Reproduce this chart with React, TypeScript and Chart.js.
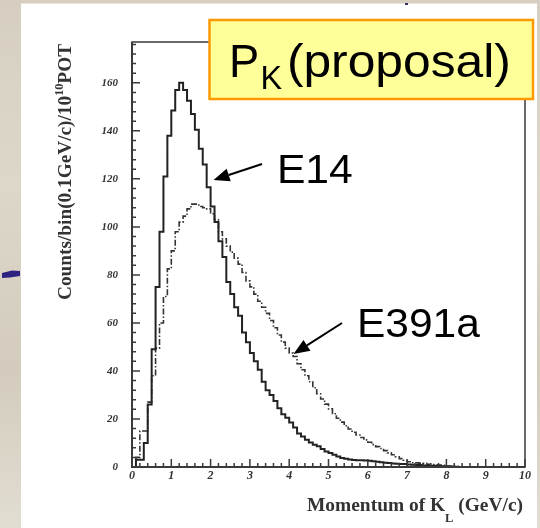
import React, { useEffect, useRef } from "react";
import { Chart, registerables } from "chart.js";

Chart.register(...registerables);

// ---- data ----
const BIN_WIDTH = 0.1; // GeV/c per bin
const X_MIN = 0;
const X_MAX = 10;
const Y_MIN = 0;
const Y_MAX = 177;
const X_TICKS = [0, 1, 2, 3, 4, 5, 6, 7, 8, 9, 10];
const Y_TICKS = [0, 20, 40, 60, 80, 100, 120, 140, 160];
const X_MINOR_STEP = 0.2;
const Y_MINOR_STEP = 4;

const E14_COUNTS = [
  0, 3, 3, 10, 26, 49, 75, 98, 121, 138,
  148.5, 157, 160, 157, 152.5, 147, 140.5, 132.5, 126, 116.5,
  108.5, 102, 94, 87.5, 77, 72, 66.5, 63, 56, 52,
  47.5, 44, 40.5, 35.5, 32, 30, 27.5, 24.5, 22, 20.5,
  18.5, 16.5, 14, 12.7, 11.3, 10.2, 9.3, 8.6, 7.5, 6.5,
  5.8, 5.1, 4.4, 3.8, 3.4, 3.1, 2.9, 2.8, 2.8, 2.7,
  2.6, 2.4, 2.2, 2.0, 1.8, 1.7, 1.5, 1.4, 1.3, 1.2,
  1.0, 0.9, 0.8, 0.8, 0.6, 0.5, 0.5, 0.4, 0.3, 0.3,
  0.2, 0.2, 0.1, 0, 0, 0, 0, 0, 0, 0,
  0, 0, 0, 0, 0, 0, 0, 0, 0, 0,
];

const E391A_COUNTS = [
  0, 4, 15, 15, 27, 38, 49.5, 60, 71, 82.5,
  90, 98, 102, 104.5, 107.5, 109.5, 109.5, 108.5, 108, 107.5,
  105.5, 103, 98, 95, 92, 89.5, 87, 84.5, 81, 77.5,
  75, 72, 69, 66.5, 64, 61, 58, 55, 52, 49.5,
  47.5, 46, 43, 40.5, 38, 35.5, 33, 30.5, 28.3, 26.2,
  24.2, 22.2, 20.3, 18.7, 17.2, 15.8, 14.5, 13.3, 12.3, 11.3,
  10.3, 9.3, 8.5, 7.7, 6.8, 5.9, 5.1, 4.3, 3.5, 2.8,
  2.2, 1.8, 1.7, 1.6, 1.5, 1.1, 1.0, 0.9, 0.8, 0.7,
  0.4, 0.3, 0.2, 0, 0, 0, 0, 0, 0, 0,
  0, 0, 0, 0, 0, 0, 0, 0, 0, 0,
];

const TITLE_MAIN = "P";
const TITLE_SUB = "K";
const TITLE_REST = "(proposal)";
const LABEL_E14 = "E14";
const LABEL_E391A = "E391a";
const X_TITLE = ["Momentum of K", "L", " (GeV/c)"];
const Y_TITLE = ["Counts/bin(0.1GeV/c)/10", "10", "POT"];

// ---- helpers ----
const toHist = (counts: number[]) => {
  const pts = counts.map((v, i) => ({ x: +(i * BIN_WIDTH).toFixed(2), y: v }));
  pts.push({ x: +(counts.length * BIN_WIDTH).toFixed(2), y: counts[counts.length - 1] });
  return pts;
};

const SANS = "'Liberation Sans', Arial, sans-serif";
const SERIF = "'Liberation Serif', 'Times New Roman', serif";

function drawFitted(
  ctx: CanvasRenderingContext2D,
  text: string,
  font: string,
  visLeft: number,
  baseline: number,
  visWidth: number
) {
  ctx.save();
  ctx.font = font;
  ctx.textAlign = "left";
  ctx.textBaseline = "alphabetic";
  const m = ctx.measureText(text);
  const w = m.actualBoundingBoxLeft + m.actualBoundingBoxRight;
  const sx = visWidth / w;
  ctx.translate(visLeft, baseline);
  ctx.scale(sx, 1);
  ctx.fillText(text, m.actualBoundingBoxLeft, 0);
  ctx.restore();
}

type Seg = { text: string; size: number; dy: number };

function drawComposite(ctx: CanvasRenderingContext2D, segs: Seg[], totalLen: number) {
  let w = 0;
  const widths = segs.map((s) => {
    ctx.font = `bold ${s.size}px ${SERIF}`;
    const mw = ctx.measureText(s.text).width;
    w += mw;
    return mw;
  });
  const sx = totalLen / w;
  ctx.scale(sx, 1);
  let x = 0;
  segs.forEach((s, i) => {
    ctx.font = `bold ${s.size}px ${SERIF}`;
    ctx.fillText(s.text, x, s.dy);
    x += widths[i];
  });
}

function arrow(ctx: CanvasRenderingContext2D, x0: number, y0: number, x1: number, y1: number) {
  const ang = Math.atan2(y1 - y0, x1 - x0);
  const hl = 16;
  const hw = 6.5;
  const bx = x1 - hl * Math.cos(ang);
  const by = y1 - hl * Math.sin(ang);
  ctx.strokeStyle = "#000";
  ctx.lineWidth = 2;
  ctx.beginPath();
  ctx.moveTo(x0, y0);
  ctx.lineTo(bx, by);
  ctx.stroke();
  ctx.fillStyle = "#000";
  ctx.beginPath();
  ctx.moveTo(x1, y1);
  ctx.lineTo(bx + hw * Math.sin(ang), by - hw * Math.cos(ang));
  ctx.lineTo(bx - hw * Math.sin(ang), by + hw * Math.cos(ang));
  ctx.closePath();
  ctx.fill();
}

const slideLayer = {
  id: "slideLayer",
  beforeDraw(chart: any) {
    const ctx: CanvasRenderingContext2D = chart.ctx;
    const W = chart.width;
    const H = chart.height;
    ctx.save();
    const g = ctx.createLinearGradient(0, 0, 0, H);
    g.addColorStop(0, "#d6cfc1");
    g.addColorStop(0.35, "#ddd7ca");
    g.addColorStop(0.7, "#d3ccbd");
    g.addColorStop(1, "#e2ddd2");
    ctx.fillStyle = g;
    ctx.fillRect(0, 0, W, H);
    ctx.fillStyle = "#ffffff";
    ctx.fillRect(21, 3.5, 516, H - 3.5);
    ctx.fillStyle = "#2e2380";
    ctx.beginPath();
    ctx.moveTo(2, 273);
    ctx.lineTo(12, 270.5);
    ctx.lineTo(20, 271);
    ctx.lineTo(20, 276);
    ctx.lineTo(10, 277.5);
    ctx.lineTo(2, 278);
    ctx.closePath();
    ctx.fill();
    ctx.fillStyle = "#34306a";
    ctx.fillRect(405, 3, 3, 2);
    ctx.restore();
  },
  afterDatasetsDraw(chart: any) {
    const ctx: CanvasRenderingContext2D = chart.ctx;
    const xs = chart.scales.x;
    const ys = chart.scales.y;
    const { left, right, top, bottom } = chart.chartArea;
    ctx.save();
    ctx.strokeStyle = "#3a3a3a";
    ctx.lineWidth = 1.5;
    ctx.strokeRect(left, top, right - left, bottom - top);
    ctx.lineWidth = 2;
    ctx.beginPath();
    ctx.moveTo(left, top);
    ctx.lineTo(left, bottom);
    ctx.lineTo(right, bottom);
    ctx.stroke();
    ctx.lineWidth = 1.5;
    ctx.beginPath();
    const nx = Math.round((X_MAX - X_MIN) / X_MINOR_STEP);
    for (let i = 0; i <= nx; i++) {
      const v = X_MIN + i * X_MINOR_STEP;
      const px = xs.getPixelForValue(v);
      const major = Math.abs(v - Math.round(v)) < 1e-6;
      ctx.moveTo(px, bottom);
      ctx.lineTo(px, bottom - (major ? 8 : 4));
    }
    const ny = Math.floor((Y_MAX - Y_MIN) / Y_MINOR_STEP);
    for (let i = 0; i <= ny; i++) {
      const v = Y_MIN + i * Y_MINOR_STEP;
      const py = ys.getPixelForValue(v);
      const major = v % 20 === 0;
      ctx.moveTo(left, py);
      ctx.lineTo(left + (major ? 8 : 4), py);
    }
    ctx.stroke();

    ctx.fillStyle = "#333";
    ctx.textAlign = "left";
    ctx.textBaseline = "alphabetic";
    ctx.save();
    ctx.translate(70.5, 300);
    ctx.rotate(-Math.PI / 2);
    drawComposite(
      ctx,
      [
        { text: Y_TITLE[0], size: 19, dy: 0 },
        { text: Y_TITLE[1], size: 12, dy: -8 },
        { text: Y_TITLE[2], size: 19, dy: 0 },
      ],
      256
    );
    ctx.restore();
    ctx.save();
    ctx.translate(307, 510.5);
    drawComposite(
      ctx,
      [
        { text: X_TITLE[0], size: 19.5, dy: 0 },
        { text: X_TITLE[1], size: 12.5, dy: 11 },
        { text: X_TITLE[2], size: 19.5, dy: 0 },
      ],
      216
    );
    ctx.restore();
    ctx.restore();
  },
  afterDraw(chart: any) {
    const ctx: CanvasRenderingContext2D = chart.ctx;
    ctx.save();
    ctx.fillStyle = "#ffff99";
    ctx.fillRect(209.5, 20, 323.5, 79);
    ctx.strokeStyle = "#ff9900";
    ctx.lineWidth = 2.5;
    ctx.strokeRect(209.5, 20, 323.5, 79);
    ctx.fillStyle = "#000";
    drawFitted(ctx, TITLE_MAIN, `47px ${SANS}`, 232, 76.5, 25);
    drawFitted(ctx, TITLE_SUB, `34px ${SANS}`, 262.3, 89, 20);
    drawFitted(ctx, TITLE_REST, `47px ${SANS}`, 289, 76.5, 219);
    drawFitted(ctx, LABEL_E14, `41px ${SANS}`, 280, 183, 72);
    drawFitted(ctx, LABEL_E391A, `41px ${SANS}`, 360, 337, 120);
    arrow(ctx, 262, 164, 213.5, 180);
    arrow(ctx, 342, 323, 293.5, 354);
    ctx.restore();
  },
};

export default function App() {
  const ref = useRef<HTMLCanvasElement | null>(null);
  useEffect(() => {
    if (!ref.current) return;
    const tickFont = { family: SERIF, size: 11, style: "italic" as const, weight: "bold" as const };
    const chart = new Chart(ref.current, {
      type: "line",
      data: {
        datasets: [
          {
            label: LABEL_E14,
            data: toHist(E14_COUNTS),
            stepped: "before",
            borderColor: "#222222",
            borderWidth: 2,
            pointRadius: 0,
            fill: false,
          },
          {
            label: LABEL_E391A,
            data: toHist(E391A_COUNTS),
            stepped: "before",
            borderColor: "#333333",
            borderWidth: 1.6,
            borderDash: [6, 2, 1.5, 2],
            pointRadius: 0,
            fill: false,
          },
        ],
      },
      options: {
        responsive: false,
        animation: false,
        devicePixelRatio: 1,
        events: [],
        layout: { padding: { left: 0, top: 42, right: 15, bottom: 0 } },
        plugins: {
          legend: { display: false },
          tooltip: { enabled: false },
          title: { display: false },
        },
        scales: {
          x: {
            type: "linear",
            min: X_MIN,
            max: X_MAX,
            afterBuildTicks: (s: any) => {
              s.ticks = X_TICKS.map((v) => ({ value: v }));
            },
            afterFit: (s: any) => {
              s.height = 61;
            },
            grid: { display: false, drawTicks: false },
            border: { display: false },
            ticks: {
              autoSkip: false,
              maxRotation: 0,
              padding: 2,
              color: "#333333",
              font: { ...tickFont, size: 12 },
              callback: (v: any) => String(v),
            },
          },
          y: {
            type: "linear",
            min: Y_MIN,
            max: Y_MAX,
            afterBuildTicks: (s: any) => {
              s.ticks = Y_TICKS.map((v) => ({ value: v }));
            },
            afterFit: (s: any) => {
              s.width = 132;
            },
            grid: { display: false, drawTicks: false },
            border: { display: false },
            ticks: {
              autoSkip: false,
              padding: 14,
              color: "#333333",
              font: tickFont,
              callback: (v: any) => String(v),
            },
          },
        },
      },
      plugins: [slideLayer],
    } as any);
    return () => chart.destroy();
  }, []);
  return (
    <div style={{ position: "absolute", left: 0, top: 0, width: 540, height: 528 }}>
      <canvas ref={ref} width={540} height={528} style={{ display: "block" }} />
    </div>
  );
}
